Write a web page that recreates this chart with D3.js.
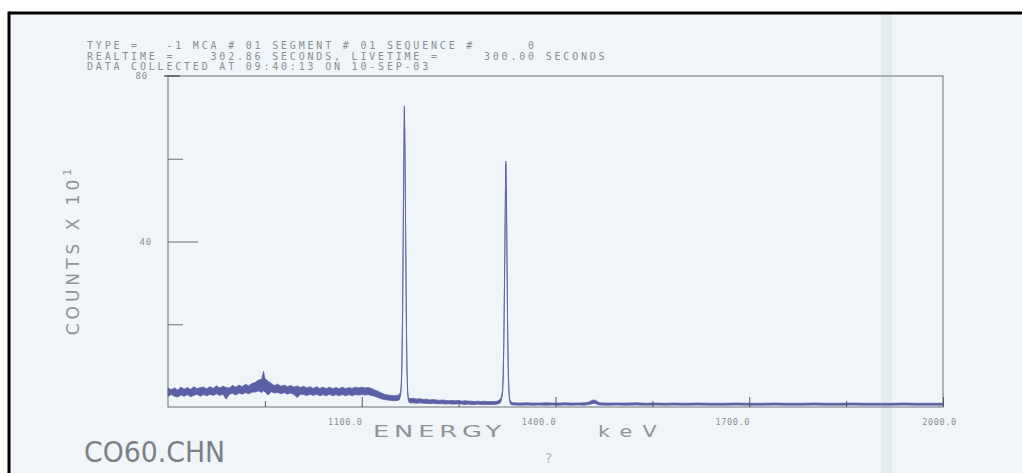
<!DOCTYPE html>
<html>
<head>
<meta charset="utf-8">
<script src="https://cdn.jsdelivr.net/npm/d3@7"></script>
<style>
  html, body { margin: 0; background: #fff; overflow: hidden; }
  svg { display: block; }
  .mono { font-family: "DejaVu Sans Mono", monospace; fill: #8a8e92; white-space: pre; }
</style>
</head>
<body>
<svg id="chart" width="1022" height="473"></svg>
<script>
// spectrum: energy (keV), lower and upper edge of the noisy trace (counts x 10^1)
var energy = [800, 805, 810, 815, 820, 825, 830, 835, 840, 845, 850, 855, 860, 865, 870, 875, 880, 885, 890, 895,
  900, 905, 910, 915, 920, 925, 930, 935, 940, 945, 948, 950, 955, 960, 965, 970, 975, 980, 985, 990, 995,
  1000, 1005, 1010, 1015, 1020, 1025, 1030, 1035, 1040, 1045, 1050, 1055, 1060, 1065, 1070, 1075, 1080, 1085, 1090, 1095,
  1100, 1105, 1110, 1115, 1120, 1125, 1130, 1135, 1140, 1145, 1150, 1155, 1158,
  1160, 1161, 1162, 1163, 1164, 1165, 1166, 1167, 1168, 1169, 1170, 1171, 1172, 1174,
  1180, 1185, 1190, 1195, 1200, 1205, 1210, 1215, 1220, 1225, 1230, 1235, 1240, 1245, 1250, 1255, 1260, 1265, 1270, 1275,
  1280, 1285, 1290, 1295, 1300, 1305, 1310, 1314,
  1316, 1318, 1319, 1320, 1321, 1322, 1323, 1324, 1325, 1326, 1327, 1328, 1329, 1331,
  1335, 1345, 1355, 1365, 1375, 1385, 1395, 1405, 1415, 1425, 1435, 1445, 1452, 1456, 1460, 1464, 1468,
  1480, 1495, 1510, 1525, 1540, 1555, 1570, 1585, 1600, 1620, 1640, 1660, 1680, 1700, 1720, 1740, 1760, 1780,
  1800, 1820, 1840, 1860, 1880, 1900, 1920, 1940, 1960, 1980, 2000]
var countsLo = [2.6, 3.0, 2.6, 2.4, 2.9, 2.6, 3.0, 2.5, 2.8, 3.1, 2.6, 3.0, 2.7, 3.1, 2.8, 3.2, 2.8, 3.1, 1.9, 3.1,
  3.3, 2.9, 3.4, 3.1, 3.5, 3.2, 3.6, 3.6, 3.9, 3.5, 3.9, 3.7, 2.9, 3.7, 3.4, 3.5, 3.2, 3.5, 3.1, 3.4, 3.0,
  2.3, 3.1, 3.0, 2.8, 3.1, 2.8, 3.1, 2.7, 3.0, 2.7, 3.1, 2.7, 3.0, 2.7, 3.0, 2.7, 3.0, 2.7, 3.0, 2.9,
  3.0, 2.9, 3.0, 2.8, 2.6, 2.3, 2.0, 1.8, 1.7, 1.6, 1.5, 1.6, 1.7,
  2.6, 4.2, 8.2, 19, 37, 57, 72.2, 61, 41, 21, 9, 3.4, 1.6, 1.0,
  1.0, 0.9, 1.0, 0.9, 0.9, 0.8, 0.9, 0.8, 0.8, 0.8, 0.7, 0.8, 0.7, 0.7, 0.8, 0.7, 0.6, 0.7, 0.6, 0.6,
  0.7, 0.6, 0.6, 0.6, 0.6, 0.6, 0.7, 0.9,
  1.5, 3.2, 7.2, 15, 29, 45, 58.8, 51, 33, 17, 7.5, 3.0, 1.3, 0.6,
  0.5, 0.45, 0.5, 0.45, 0.5, 0.45, 0.5, 0.45, 0.5, 0.45, 0.5, 0.45, 0.6, 0.8, 0.9, 0.7, 0.5,
  0.45, 0.5, 0.45, 0.5, 0.45, 0.5, 0.45, 0.5, 0.45, 0.5, 0.45, 0.45, 0.5, 0.45, 0.45, 0.5, 0.45, 0.45,
  0.5, 0.45, 0.45, 0.5, 0.45, 0.45, 0.45, 0.5, 0.45, 0.45, 0.45]
var countsHi = [4.6, 4.2, 4.6, 4.1, 4.8, 4.3, 4.7, 4.2, 4.9, 4.4, 4.7, 4.8, 4.4, 4.9, 4.5, 5.1, 4.6, 5.0, 4.7, 4.6,
  5.2, 4.8, 5.3, 4.9, 5.5, 5.1, 5.7, 5.9, 6.5, 6.7, 8.6, 6.9, 6.2, 5.7, 5.2, 5.5, 5.0, 5.3, 4.9, 5.2, 4.8,
  5.1, 4.7, 5.0, 4.6, 4.9, 4.5, 4.9, 4.5, 4.8, 4.4, 4.8, 4.4, 4.7, 4.4, 4.8, 4.4, 4.7, 4.5, 4.8, 4.6,
  4.8, 4.6, 4.7, 4.5, 4.1, 3.8, 3.4, 3.1, 2.9, 2.8, 2.7, 2.8, 3.0,
  3.6, 5.0, 9.0, 20, 38, 58, 72.8, 62, 42, 22, 10, 4.2, 2.4, 2.0,
  2.1, 1.9, 2.0, 1.8, 1.9, 1.7, 1.8, 1.7, 1.6, 1.7, 1.6, 1.5, 1.6, 1.5, 1.6, 1.4, 1.5, 1.4, 1.4, 1.3,
  1.4, 1.3, 1.4, 1.3, 1.3, 1.3, 1.4, 1.8,
  2.3, 4.0, 8.0, 16, 30, 46, 59.4, 52, 34, 18, 8.3, 3.8, 2.0, 1.2,
  1.0, 0.95, 1.0, 0.95, 0.95, 1.0, 0.95, 0.95, 1.0, 0.95, 0.95, 1.0, 1.2, 1.6, 1.7, 1.4, 1.0,
  0.95, 0.95, 0.95, 1.0, 0.9, 0.95, 0.9, 0.95, 0.9, 0.95, 0.9, 0.9, 0.95, 0.9, 0.9, 0.95, 0.9, 0.9,
  0.95, 0.9, 0.9, 0.95, 0.9, 0.9, 0.9, 0.95, 0.9, 0.9, 0.9]

var xMajor = [1100, 1400, 1700, 2000]
var xMinor = [950, 1250, 1550, 1850]
var yTicks = [20, 40, 60]
var yLabels = [40, 80]

var header = [
  "TYPE =   -1 MCA # 01 SEGMENT # 01 SEQUENCE #      0",
  "REALTIME =    302.86 SECONDS, LIVETIME =     300.00 SECONDS",
  "DATA COLLECTED AT 09:40:13 ON 10-SEP-03"
]

var svg = d3.select("#chart")
var width = 1022, height = 473
var margin = {top: 76, right: 79, bottom: 66, left: 168}

// paper
svg.append("rect").attr("width", width).attr("height", height).attr("fill", "#fff")
svg.append("rect").attr("x", 9).attr("y", 13).attr("width", width - 9).attr("height", height - 13)
  .attr("fill", "#eff5f8")
// scanner streak
svg.append("rect").attr("x", 881).attr("y", 14).attr("width", 11).attr("height", height - 14)
  .attr("fill", "#cdd3d7").attr("opacity", 0.28)
// black scan border, top and left edges only
svg.append("line").attr("x1", 9).attr("x2", width + 5).attr("y1", 13).attr("y2", 13)
  .attr("stroke", "#000").attr("stroke-width", 3)
svg.append("line").attr("x1", 9).attr("x2", 9).attr("y1", 11.5).attr("y2", height + 5)
  .attr("stroke", "#000").attr("stroke-width", 3)

var x = d3.scaleLinear()
  .domain([800, 2000])
  .range([margin.left, width - margin.right])

var y = d3.scaleLinear()
  .domain([0, 80])
  .range([height - margin.bottom, margin.top])

var data = d3.zip(energy, countsLo, countsHi)

var area = d3.area()
  .x(d => x(d[0]))
  .y0(d => y(d[1]))
  .y1(d => y(d[2]))

svg.append("path")
  .datum(data)
  .attr("d", area)
  .attr("fill", "#5a60a6")
  .attr("stroke", "#5c619e")
  .attr("stroke-width", 0.8)
  .attr("stroke-linejoin", "round")

// frame
svg.append("rect")
  .attr("x", x(800)).attr("y", y(80))
  .attr("width", x(2000) - x(800)).attr("height", y(0) - y(80))
  .attr("fill", "none").attr("stroke", "#6d7175").attr("stroke-width", 1)

// bottom axis, ticks point up into the plot
var xAxis = svg.append("g")
  .attr("transform", `translate(0,${y(0)})`)
  .call(d3.axisBottom(x).tickValues(xMajor).tickSize(-10).tickPadding(12)
    .tickFormat(d3.format(".1f")))
xAxis.select(".domain").remove()
xAxis.selectAll("line").attr("stroke", "#55595d")
xAxis.selectAll("text")
  .attr("class", "mono")
  .attr("font-size", 8.5)
  .attr("letter-spacing", 0.6)
  .attr("dx", d => d === 2000 ? -4 : -17)

var xMinorAxis = svg.append("g")
  .attr("transform", `translate(0,${y(0)})`)
  .call(d3.axisBottom(x).tickValues(xMinor).tickSize(-6).tickFormat(""))
xMinorAxis.select(".domain").remove()
xMinorAxis.selectAll("line").attr("stroke", "#55595d")

// left axis, ticks point right
var yAxis = svg.append("g")
  .attr("transform", `translate(${x(800)},0)`)
  .call(d3.axisLeft(y).tickValues(yTicks).tickSize(-15).tickFormat(""))
yAxis.select(".domain").remove()
yAxis.selectAll("line")
  .attr("stroke", "#6d7175")
  .attr("x2", d => d === 40 ? 30 : 15)
svg.append("line")
  .attr("x1", x(800) - 4).attr("x2", x(800) + 12)
  .attr("y1", y(80)).attr("y2", y(80))
  .attr("stroke", "#55595d").attr("stroke-width", 1.5)

svg.selectAll(".ylab")
  .data(yLabels)
  .join("text")
  .attr("class", "mono")
  .attr("x", d => d === 80 ? 148 : 152)
  .attr("y", d => y(d) + 3)
  .attr("text-anchor", "end")
  .attr("font-size", 9)
  .attr("letter-spacing", 0.8)
  .text(d => d)

// run header
svg.selectAll(".hdr")
  .data(header)
  .join("text")
  .attr("class", "mono")
  .attr("x", 87)
  .attr("y", (d, i) => 49 + i * 10.7)
  .attr("font-size", 10)
  .attr("letter-spacing", 2.8)
  .text(d => d)

// axis titles
var yTitle = svg.append("text")
  .attr("transform", "translate(79,250) rotate(-90)")
  .attr("text-anchor", "middle")
  .attr("font-family", "DejaVu Sans, sans-serif")
  .attr("font-size", 17)
  .attr("letter-spacing", 4)
  .attr("fill", "#8f9397")
yTitle.append("tspan").text("COUNTS X 10")
yTitle.append("tspan").attr("dy", -8).attr("font-size", 11).text("1")

svg.append("text")
  .attr("x", 373).attr("y", 437)
  .attr("font-family", "DejaVu Sans, sans-serif")
  .attr("font-size", 16)
  .attr("letter-spacing", 3)
  .attr("textLength", 133)
  .attr("lengthAdjust", "spacingAndGlyphs")
  .attr("fill", "#8f9397")
  .text("ENERGY")
svg.append("text")
  .attr("x", 598).attr("y", 437)
  .attr("font-family", "DejaVu Sans, sans-serif")
  .attr("font-size", 16)
  .attr("letter-spacing", 8)
  .attr("textLength", 69)
  .attr("lengthAdjust", "spacingAndGlyphs")
  .attr("fill", "#8f9397")
  .text("keV")

// file name scribbled under the plot
svg.append("text")
  .attr("x", 84).attr("y", 462)
  .attr("font-family", "Liberation Sans Narrow, DejaVu Sans Condensed, sans-serif")
  .attr("font-size", 29)
  .attr("textLength", 141)
  .attr("lengthAdjust", "spacingAndGlyphs")
  .attr("fill", "#7c8084")
  .text("CO60.CHN")

svg.append("text")
  .attr("x", 545).attr("y", 463)
  .attr("font-family", "DejaVu Sans, sans-serif")
  .attr("font-size", 14)
  .attr("fill", "#b4b8bb")
  .text("?")
</script>
</body>
</html>
